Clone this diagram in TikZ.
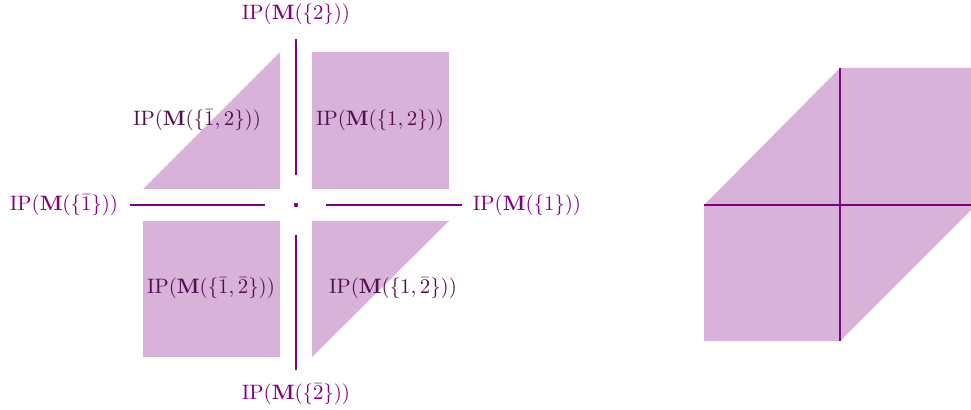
\documentclass[tikz,border=0pt]{standalone}
\usepackage{amsmath}
\definecolor{ax}{RGB}{128,0,128}
\definecolor{rg}{RGB}{217,178,218}
\definecolor{lbl}{RGB}{80,16,80}
\begin{document}
\begin{tikzpicture}[x=0.48pt,y=-0.48pt,
  axis/.style={draw=ax,line width=1.1pt},
  region/.style={fill=rg},
  axlabel/.style={text=ax,inner sep=0pt},
  rlabel/.style={text=lbl,inner sep=0pt}]
\useasboundingbox (0,0) rectangle (971,410);
% left diagram regions
\fill[region] (143,189) -- (280,52) -- (280,189) -- cycle;
\fill[region] (312,52) rectangle (449,189);
\fill[region] (143,221) rectangle (280,357);
\fill[region] (312,221) -- (449,221) -- (312,357) -- cycle;
% axis endpoints
\coordinate (l1) at (130,205); \coordinate (l2) at (265,205);
\coordinate (r1) at (326,205); \coordinate (r2) at (462,205);
\coordinate (t1) at (296,39);  \coordinate (t2) at (296,175);
\coordinate (b1) at (296,235); \coordinate (b2) at (296,370);
\draw[axis] (l1) -- (l2);
\draw[axis] (r1) -- (r2);
\draw[axis] (t1) -- (t2);
\draw[axis] (b1) -- (b2);
\fill[ax] (296,205) circle (2.2);
% axis labels
\node[axlabel] (top) at (296,14) {$\mathrm{IP}(\mathbf{M}(\{2\}))$};
\node[axlabel] (bot) at (296,394) {$\mathrm{IP}(\mathbf{M}(\{\bar{2}\}))$};
\node[axlabel] (lft) at (64,205) {$\mathrm{IP}(\mathbf{M}(\{\bar{1}\}))$};
\node[axlabel] (rgt) at (527,205) {$\mathrm{IP}(\mathbf{M}(\{1\}))$};
% region labels
\node[rlabel] (tl) at (197,120) {$\mathrm{IP}(\mathbf{M}(\{\bar{1},2\}))$};
\node[rlabel] (tr) at (380,120) {$\mathrm{IP}(\mathbf{M}(\{1,2\}))$};
\node[rlabel] (bl) at (211,288) {$\mathrm{IP}(\mathbf{M}(\{\bar{1},\bar{2}\}))$};
\node[rlabel] (br) at (393,288) {$\mathrm{IP}(\mathbf{M}(\{1,\bar{2}\}))$};
% right diagram
\fill[region] (704,205) -- (840,68) -- (976,68) -- (976,205) -- (840,341) -- (704,341) -- cycle;
\coordinate (h1) at (704,205); \coordinate (h2) at (976,205);
\coordinate (v1) at (840,68);  \coordinate (v2) at (840,341);
\draw[axis] (h1) -- (h2);
\draw[axis] (v1) -- (v2);
\end{tikzpicture}
\end{document}
